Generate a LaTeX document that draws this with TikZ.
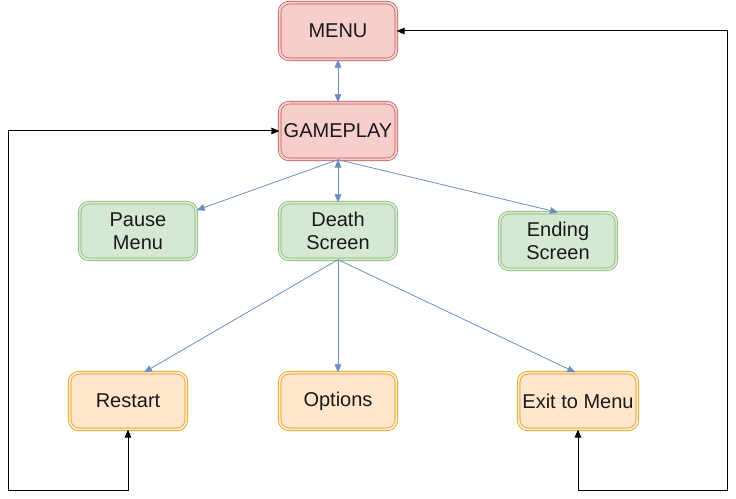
\documentclass[tikz,border=0pt]{standalone}
\usepackage{fontspec}
\setmainfont{Liberation Sans}
\usetikzlibrary{arrows.meta}

\definecolor{redline}{HTML}{B85450}
\definecolor{redfill}{HTML}{F8CECC}
\definecolor{greenline}{HTML}{82B366}
\definecolor{greenfill}{HTML}{D5E8D4}
\definecolor{orangeline}{HTML}{D79B00}
\definecolor{orangefill}{HTML}{FFE6CC}
\definecolor{blueline}{HTML}{6C8EBF}

\begin{document}
\begin{tikzpicture}[x=0.75pt,y=-0.75pt]

  \useasboundingbox (0,0) rectangle (736,499);
  \coordinate (X) at (0,0);

  % node styles
  \tikzstyle{Box}=[
  anchor=center,
  line width=0.5pt,
  double distance=1.6pt,
  text=black!90,
  font=\fontsize{15pt}{17.5pt}\selectfont,
  align=center,
  inner sep=1mm,
  minimum width=87.5pt,
  minimum height=42.5pt,
  shape=rectangle,rounded corners=7pt]

  \tikzstyle{RedBox}=[Box,draw=redline,double=redfill,fill=redfill]
  \tikzstyle{GreenBox}=[Box,draw=greenline,double=greenfill,fill=greenfill]
  \tikzstyle{OrangeBox}=[Box,draw=orangeline,double=orangefill,fill=orangefill]

  \tikzstyle{Flow}=[draw=blueline,line width=0.6pt,
  arrows={-Triangle[length=6pt,width=5pt]}]
  \tikzstyle{Back}=[draw=black,line width=0.75pt,
  arrows={Triangle[length=6pt,width=5pt]-Triangle[length=6pt,width=5pt]}]

  \draw (X) node[RedBox] (M) at +(338, 31) {MENU};
  \draw (X) node[RedBox] (G) at +(338,131) {GAMEPLAY};

  \draw (X) node[GreenBox] (P) at +(138,231) {Pause\\Menu};
  \draw (X) node[GreenBox] (D) at +(338,231) {Death\\Screen};
  \draw (X) node[GreenBox] (E) at +(558,241) {Ending\\Screen};

  \draw (X) node[OrangeBox] (R) at +(128,401) {Restart};
  \draw (X) node[OrangeBox] (O) at +(338,401) {Options};
  \draw (X) node[OrangeBox] (Q) at +(578,401) {Exit to Menu};

  \coordinate (LB) at (8,490);
  \coordinate (RB) at (727,490);

  \draw[Flow,arrows={Triangle[length=6pt,width=5pt]-Triangle[length=6pt,width=5pt]}] (M.south) -- (G.north);
  \draw[Flow,arrows={Triangle[length=6pt,width=5pt]-Triangle[length=6pt,width=5pt]}] (G.south) -- (D.north);
  \draw[Flow] (G.south) -- (P);
  \draw[Flow] (G.south) -- (E.north);

  \draw[Flow] (D.south) -- ([xshift=12pt]R.north);
  \draw[Flow] (D.south) -- (O.north);
  \draw[Flow] (D.south) -- ([xshift=-2pt]Q.north);

  \draw[Back] (R.south) |- (LB) |- (G.west);
  \draw[Back] (Q.south) |- (RB) |- (M.east);

\end{tikzpicture}
\end{document}
